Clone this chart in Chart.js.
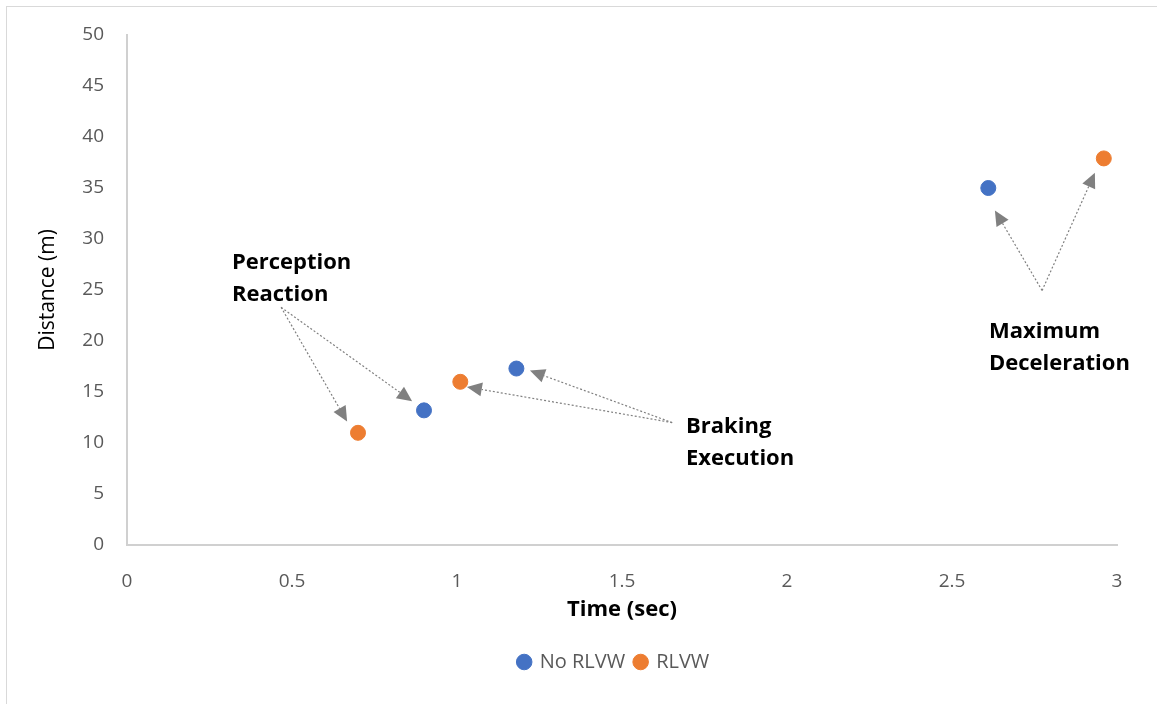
<!DOCTYPE html>
<html lang="en">
<head>
<meta charset="UTF-8">
<title>Distance vs Time</title>
<style>
  html, body { margin: 0; padding: 0; background: #fff; }
  #wrap { position: relative; width: 1157px; height: 704px; }
  #frame { position: absolute; left: 6px; top: 6px; width: 1200px; height: 760px; border: 1px solid #d9d9d9; box-sizing: border-box; }
  canvas { position: absolute; left: 0; top: 0; }
</style>
</head>
<body>
<div id="wrap">
  <div id="frame"></div>
  <canvas id="grafico" width="1157" height="704"></canvas>
</div>
<script src="https://cdn.jsdelivr.net/npm/chart.js"></script>
<script>
// series: time (s) and distance (m)
const noRlvwTime = [0.90, 1.18, 2.61];
const noRlvwDist = [13.2, 17.3, 35.0];
const rlvwTime = [0.70, 1.01, 2.96];
const rlvwDist = [11.0, 16.0, 37.9];

const xTicks = [0, 0.5, 1, 1.5, 2, 2.5, 3];
const yTicks = [0, 5, 10, 15, 20, 25, 30, 35, 40, 45, 50];

// callouts: text lines, text anchor, arrow origin, arrow tips (data units)
const callouts = [
  { lines: ['Perception', 'Reaction'], text: [0.318, 27.7], from: [0.467, 23.3], to: [[0.667, 12.1], [0.864, 14.1]] },
  { lines: ['Braking', 'Execution'], text: [1.694, 11.6], from: [1.652, 12.0], to: [[1.03, 15.5], [1.221, 17.1]] },
  { lines: ['Maximum', 'Deceleration'], text: [2.612, 20.9], from: [2.773, 24.95], to: [[2.63, 32.8], [2.933, 36.5]] }
];

const FONT = '"Open Sans", sans-serif';
const toPoints = (xs, ys) => xs.map((x, i) => ({ x: x, y: ys[i] }));

const calloutPlugin = {
  id: 'callouts',
  afterLayout(chart) {
    // legend sits centred under the plot, not the whole canvas
    chart.legend.left += 38;
    chart.legend.right += 38;
  },
  afterDatasetsDraw(chart) {
    const ctx = chart.ctx;
    const sx = chart.scales.x, sy = chart.scales.y;
    ctx.save();
    callouts.forEach(c => {
      const ox = sx.getPixelForValue(c.from[0]);
      const oy = sy.getPixelForValue(c.from[1]);
      c.to.forEach(t => {
        const tx = sx.getPixelForValue(t[0]);
        const ty = sy.getPixelForValue(t[1]);
        const ang = Math.atan2(ty - oy, tx - ox);
        const len = 15, half = 7;
        const bx = tx - Math.cos(ang) * len, by = ty - Math.sin(ang) * len;
        // dotted shaft
        ctx.strokeStyle = '#808080';
        ctx.lineWidth = 1.2;
        ctx.setLineDash([2, 2]);
        ctx.beginPath();
        ctx.moveTo(ox, oy);
        ctx.lineTo(bx, by);
        ctx.stroke();
        ctx.setLineDash([]);
        // arrow head
        ctx.fillStyle = '#808080';
        ctx.beginPath();
        ctx.moveTo(tx, ty);
        ctx.lineTo(bx + Math.sin(ang) * half, by - Math.cos(ang) * half);
        ctx.lineTo(bx - Math.sin(ang) * half, by + Math.cos(ang) * half);
        ctx.closePath();
        ctx.fill();
      });
      ctx.fillStyle = '#000';
      ctx.font = 'bold 22px ' + FONT;
      ctx.textAlign = 'left';
      ctx.textBaseline = 'middle';
      const lx = sx.getPixelForValue(c.text[0]);
      const ly = sy.getPixelForValue(c.text[1]);
      c.lines.forEach((s, i) => ctx.fillText(s, lx, ly + i * 32));
    });
    ctx.restore();
  }
};

new Chart(document.getElementById('grafico'), {
  type: 'scatter',
  data: {
    datasets: [
      { label: 'No RLVW', data: toPoints(noRlvwTime, noRlvwDist), backgroundColor: '#4472C4', borderColor: '#4472C4', pointRadius: 7.5, pointHoverRadius: 7.5 },
      { label: 'RLVW', data: toPoints(rlvwTime, rlvwDist), backgroundColor: '#ED7D31', borderColor: '#ED7D31', pointRadius: 7.5, pointHoverRadius: 7.5 }
    ]
  },
  options: {
    responsive: false,
    animation: false,
    layout: { padding: { left: 35, top: 35, right: 40, bottom: 22 } },
    plugins: {
      tooltip: { enabled: false },
      legend: {
        position: 'bottom',
        labels: {
          usePointStyle: true,
          pointStyle: 'circle',
          boxWidth: 11,
          boxHeight: 11,
          padding: 10,
          color: '#595959',
          font: { family: FONT, size: 20 }
        }
      }
    },
    scales: {
      x: {
        type: 'linear',
        min: 0,
        max: 3,
        afterBuildTicks: s => { s.ticks = xTicks.map(v => ({ value: v })); },
        afterFit: s => { s.height = 97; },
        grid: { display: false, drawTicks: false },
        border: { color: '#d0d0d0', width: 2 },
        ticks: { color: '#595959', padding: 25, font: { family: FONT, size: 19 }, callback: v => String(v) },
        title: { display: true, text: 'Time (sec)', color: '#000', font: { family: FONT, size: 22, weight: 'bold' }, padding: { top: 0, bottom: 19 } }
      },
      y: {
        min: 0,
        max: 50,
        afterBuildTicks: s => { s.ticks = yTicks.map(v => ({ value: v })); },
        afterFit: s => { s.width = 92; },
        grid: { display: false, drawTicks: false },
        border: { color: '#d0d0d0', width: 2 },
        ticks: { color: '#595959', padding: 23, font: { family: FONT, size: 19 }, callback: v => String(v) },
        title: { display: true, text: 'Distance (m)', color: '#000', font: { family: FONT, size: 21 }, padding: { top: 0, bottom: 0 } }
      }
    }
  },
  plugins: [calloutPlugin]
});
</script>
</body>
</html>
